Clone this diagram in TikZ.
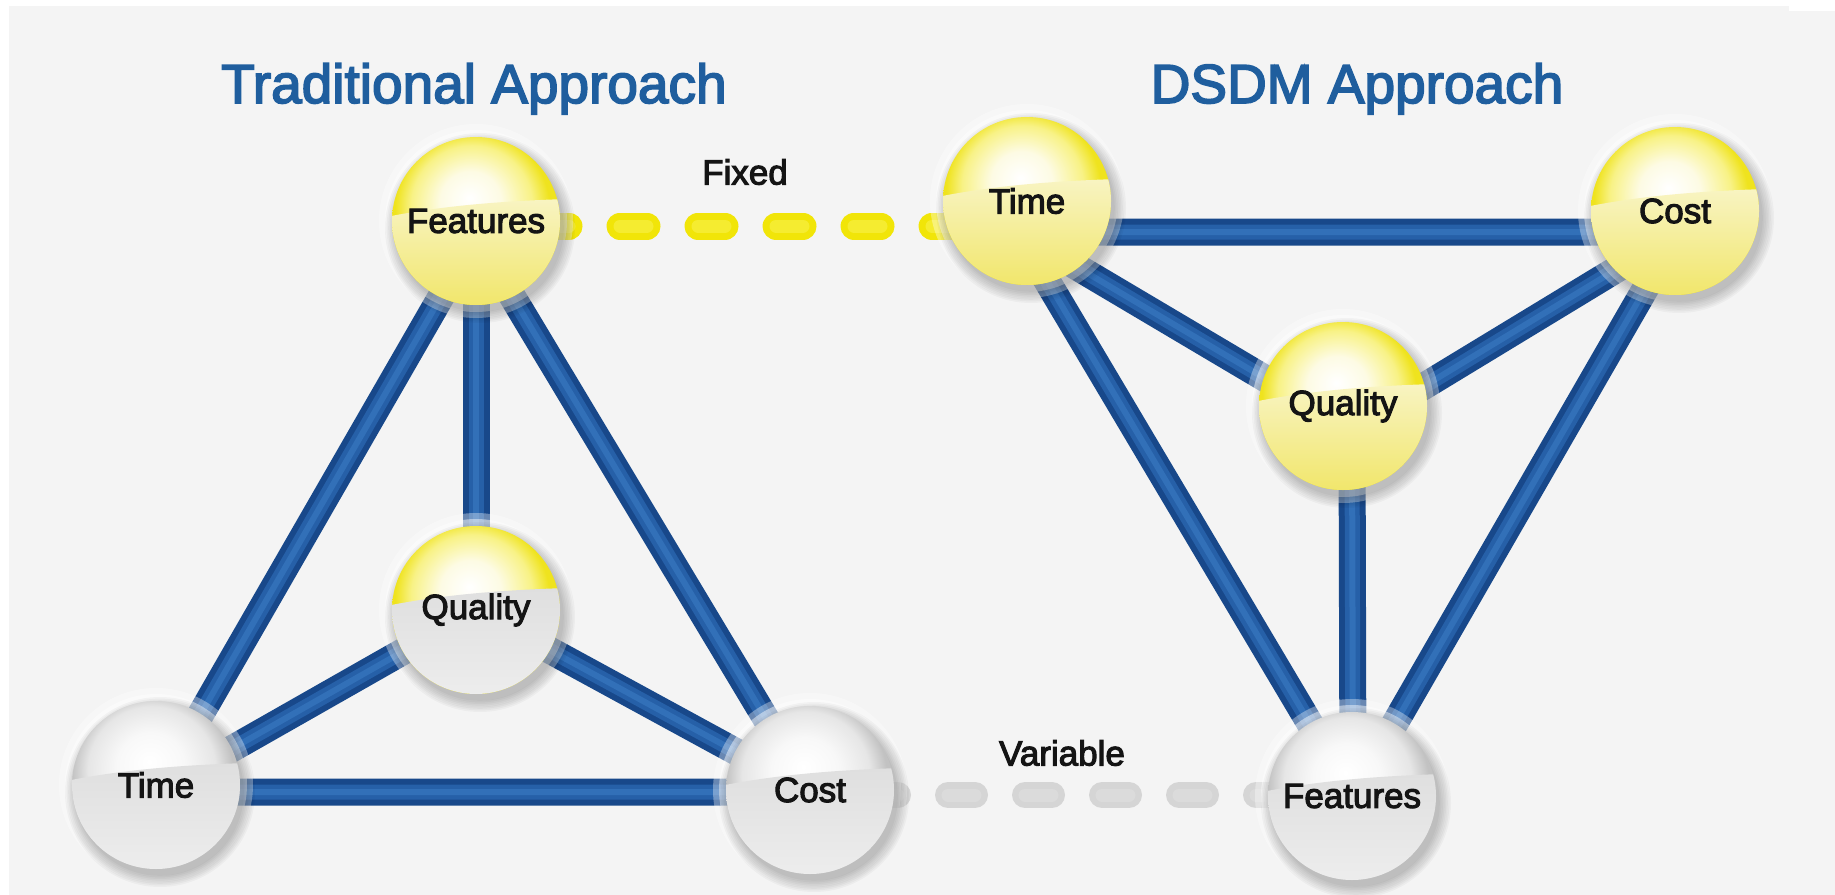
\documentclass[tikz,border=0pt]{standalone}
\usepackage{fontspec}
\setmainfont{Liberation Sans}
\newfontfamily\labelfont{Liberation Sans}[FakeBold=3]
\usetikzlibrary{calc}

% palette
\definecolor{paper}{HTML}{F4F4F4}
\definecolor{headblue}{HTML}{1F5E9E}
\definecolor{rodDark}{HTML}{18488A}
\definecolor{rodMid}{HTML}{2660A8}
\definecolor{rodLight}{HTML}{3270B8}
\definecolor{dashY}{HTML}{F1E508}
\definecolor{dashYHi}{HTML}{F5EC30}
\definecolor{dashG}{HTML}{D5D5D5}
\definecolor{dashGHi}{HTML}{DBDBDB}
\definecolor{yIn}{HTML}{FDFBE4}
\definecolor{yMid}{HTML}{F8F286}
\definecolor{yRim}{HTML}{EFE31E}
\definecolor{yLowTop}{HTML}{F8F4C2}
\definecolor{yLowBot}{HTML}{F1E66A}
\definecolor{gIn}{HTML}{F8F8F8}
\definecolor{gMid}{HTML}{E6E6E6}
\definecolor{gRim}{HTML}{C2C2C2}
\definecolor{gLowTop}{HTML}{DFDFDF}
\definecolor{gLowBot}{HTML}{EDEDED}
\definecolor{ink}{HTML}{141414}

% sphere shadings (25bp = sphere radius)
\pgfdeclareradialshading{yorb}{\pgfpoint{-2bp}{7bp}}{color(0bp)=(white); color(9bp)=(yIn); color(18bp)=(yMid); color(23bp)=(yRim); color(25bp)=(yRim); color(50bp)=(yRim)}
\pgfdeclareradialshading{gorb}{\pgfpoint{-2bp}{7bp}}{color(0bp)=(white); color(10bp)=(gIn); color(19bp)=(gMid); color(24bp)=(gRim); color(25bp)=(gRim); color(50bp)=(gRim)}

\pgfdeclarelayer{backdrop}
\pgfdeclarelayer{links}
\pgfsetlayers{backdrop,links,main}

% lower glossy half of a sphere
\newcommand\orbgloss[2]{%
  \path (path picture bounding box.center) coordinate (oc);
  \shade[top color=#1, bottom color=#2]
    ($(oc)+(-90bp,4bp)$) .. controls ($(oc)+(-30bp,16bp)$) and ($(oc)+(30bp,20bp)$) .. ($(oc)+(90bp,22bp)$)
    -- ($(oc)+(90bp,-86bp)$) -- ($(oc)+(-90bp,-86bp)$) -- cycle;
}
% halo and soft shadow under a sphere
\newcommand\orbbase[1]{%
  \fill[white, opacity=.35] (#1) circle (97bp);
  \fill[white, opacity=.45] (#1) circle (91bp);
  \foreach \k in {0,...,7}{%
    \fill[black, opacity=.03, shift={(#1)}] (4bp,-7bp) circle [radius={95bp-1.6bp*\k}];}
}

\tikzset{
  orb/.style={circle, minimum size=168bp, inner sep=0pt, text=ink,
    font=\labelfont\fontsize{35bp}{40bp}\selectfont},
  yorbnode/.style={orb, shading=yorb, path picture={\orbgloss{yLowTop}{yLowBot}}},
  gorbnode/.style={orb, shading=gorb, path picture={\orbgloss{gLowTop}{gLowBot}}},
  morbnode/.style={orb, shading=yorb, path picture={\orbgloss{gLowTop}{gLowBot}}},
  heading/.style={text=headblue, font=\labelfont\fontsize{55bp}{60bp}\selectfont, inner sep=0pt},
  tag/.style={text=ink, font=\labelfont\fontsize{35bp}{40bp}\selectfont, inner sep=0pt},
  rod/.style={line width=27bp, draw=rodDark,
    postaction={draw=rodMid, line width=15bp},
    postaction={draw=rodLight, line width=6bp}},
  fixedlink/.style={line width=27bp, draw=dashY, line cap=round,
    dash pattern=on 27bp off 51bp, dash phase=12bp,
    postaction={draw=dashYHi, line width=13bp}},
  varlink/.style={line width=26bp, draw=dashG, line cap=round,
    dash pattern=on 27bp off 50bp, dash phase=16bp,
    postaction={draw=dashGHi, line width=13bp}},
}

\begin{document}
\begin{tikzpicture}[x=1bp, y=-1bp]
\useasboundingbox (0,0) rectangle (1835,895);
\begin{pgfonlayer}{backdrop}
  \fill[white] (0,0) rectangle (1835,895);
  \fill[paper] (9,6) rectangle (1835,895);
  \fill[white] (1789,6) rectangle (1835,11);
\end{pgfonlayer}

% headings
\node[heading, anchor=base] (h1) at (474,103) {Traditional Approach};
\node[heading, anchor=base] (h2) at (1357,103) {DSDM Approach};

% traditional spheres
\orbbase{476,221}
\node[yorbnode] (tf) at (476,221) {Features};
\orbbase{476,610}
\node[morbnode] (tq) at (476,610) {Quality};
\orbbase{156,785}
\node[gorbnode] (tt) at (156,785) {Time};
\orbbase{810,790}
\node[gorbnode] (tc) at (810,790) {Cost};

% DSDM spheres
\orbbase{1027,201}
\node[yorbnode] (dt) at (1027,201) {Time};
\orbbase{1675,211}
\node[yorbnode] (dc) at (1675,211) {Cost};
\orbbase{1343,406}
\node[yorbnode] (dq) at (1343,406) {Quality};
\orbbase{1352,796}
\node[gorbnode] (df) at (1352,796) {Features};

% link captions
\node[tag] (fixed) at (745,172) {Fixed};
\node[tag] (variable) at (1062,753) {Variable};

\begin{pgfonlayer}{links}
  % traditional triangle
  \draw[rod] ([yshift=-15bp]tf.center) -- (tq.center);
  \draw[rod] ([yshift=-15bp]tf.center) -- ([yshift=-7bp]tt.center);
  \draw[rod] ([yshift=-15bp]tf.center) -- ([yshift=-2bp]tc.center);
  \draw[rod] (tq.center) -- ([yshift=-7bp]tt.center);
  \draw[rod] (tq.center) -- ([yshift=-2bp]tc.center);
  \draw[rod] ([yshift=-7bp]tt.center) -- ([yshift=-2bp]tc.center);
  % DSDM triangle
  \draw[rod] ([shift={(-9bp,-31bp)}]dt.center) -- ([shift={(3bp,-21bp)}]dc.center);
  \draw[rod] ([shift={(-9bp,-31bp)}]dt.center) -- ([shift={(9bp,-24bp)}]dq.center);
  \draw[rod] ([shift={(-9bp,-31bp)}]dt.center) -- ([xshift=1bp]df.center);
  \draw[rod] ([shift={(3bp,-21bp)}]dc.center) -- ([shift={(9bp,-24bp)}]dq.center);
  \draw[rod] ([shift={(3bp,-21bp)}]dc.center) -- ([xshift=1bp]df.center);
  \draw[rod] ([shift={(9bp,-24bp)}]dq.center) -- ([xshift=1bp]df.center);
  % fixed / variable links
  \draw[fixedlink] ([yshift=-5bp]tf.center) -- ([yshift=-5bp]tf.center -| dt.center);
  \draw[varlink] ([yshift=-5bp]tc.center) -- ([yshift=-5bp]tc.center -| df.center);
\end{pgfonlayer}
\end{tikzpicture}
\end{document}
